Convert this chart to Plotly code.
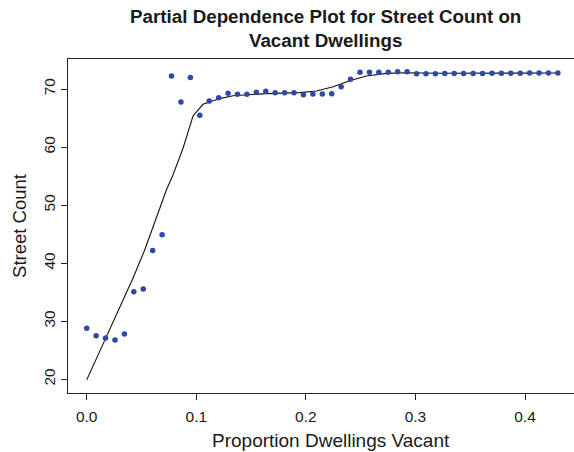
import plotly.graph_objects as go

# Partial dependence of street count on the proportion of vacant dwellings
vacant_prop = [
    0.0000, 0.0086, 0.0172, 0.0258, 0.0344, 0.0430, 0.0516, 0.0602, 0.0688, 0.0774,
    0.0860, 0.0946, 0.1032, 0.1118, 0.1204, 0.1290, 0.1376, 0.1462, 0.1548, 0.1634,
    0.1720, 0.1806, 0.1892, 0.1978, 0.2064, 0.2150, 0.2236, 0.2322, 0.2408, 0.2494,
    0.2580, 0.2666, 0.2752, 0.2838, 0.2924, 0.3010, 0.3096, 0.3182, 0.3268, 0.3354,
    0.3440, 0.3526, 0.3612, 0.3698, 0.3784, 0.3870, 0.3956, 0.4042, 0.4128, 0.4214,
    0.4300,
]
street_count = [
    28.78, 27.50, 27.10, 26.77, 27.80, 35.09, 35.55, 42.20, 44.90, 72.24,
    67.76, 72.00, 65.47, 67.93, 68.50, 69.26, 69.09, 69.09, 69.43, 69.60,
    69.37, 69.37, 69.37, 69.02, 69.14, 69.14, 69.20, 70.40, 71.67, 72.88,
    72.88, 72.88, 72.88, 72.98, 72.98, 72.65, 72.65, 72.65, 72.66, 72.68,
    72.68, 72.69, 72.69, 72.70, 72.70, 72.72, 72.73, 72.74, 72.75, 72.76,
    72.77,
]

# Smoothed trend through the partial dependence values
smooth_x = [0.0, 0.0173, 0.0331, 0.0422, 0.0529, 0.059, 0.0727, 0.0787, 0.0879,
            0.097, 0.1061, 0.1214, 0.1335, 0.164, 0.1944, 0.2097, 0.2249, 0.24,
            0.2553, 0.2736, 0.2918, 0.32, 0.36, 0.40, 0.43]
smooth_y = [19.9, 27.06, 33.66, 37.4, 42.27, 45.4, 52.6, 55.2, 59.8,
            65.35, 67.36, 68.35, 68.85, 69.2, 69.37, 69.65, 70.4, 71.43,
            72.24, 72.7, 72.8, 72.72, 72.7, 72.72, 72.76]

x_ticks = [0.0, 0.1, 0.2, 0.3, 0.4]
x_tick_labels = ["0.0", "0.1", "0.2", "0.3", "0.4"]
y_ticks = [20, 30, 40, 50, 60, 70]
y_tick_labels = ["20", "30", "40", "50", "60", "70"]

FONT = "Liberation Sans, Arial, Helvetica, sans-serif"
INK = "#1a1a1a"
PLOT_W, PLOT_H = 506, 334

fig = go.Figure()
fig.add_trace(go.Scatter(
    x=smooth_x, y=smooth_y, mode="lines",
    line=dict(color="#111111", width=1.1),
    hoverinfo="skip", showlegend=False,
))
fig.add_trace(go.Scatter(
    x=vacant_prop, y=street_count, mode="markers",
    marker=dict(color="#2f47a6", size=5.5, line=dict(width=0)),
    showlegend=False,
))

fig.update_layout(
    width=574, height=452,
    margin=dict(l=68, r=0, t=59, b=59),
    paper_bgcolor="white", plot_bgcolor="white",
    font=dict(family=FONT, color=INK),
    xaxis=dict(
        range=[-0.01708, 0.4447], tickvals=x_ticks, ticktext=x_tick_labels,
        showgrid=False, zeroline=False,
        showline=True, linecolor="#222222", linewidth=1.2, mirror=True,
        ticks="outside", ticklen=6, tickcolor="#222222", tickwidth=1,
        ticklabelstandoff=3,
        tickfont=dict(size=15.5, family=FONT, color=INK),
    ),
    yaxis=dict(
        range=[17.64, 75.17], tickvals=y_ticks, ticktext=y_tick_labels,
        showgrid=False, zeroline=False,
        showline=True, linecolor="#222222", linewidth=1.2, mirror=False,
        ticks="outside", ticklen=6, tickcolor="#222222", tickwidth=1,
        tickangle=-90,
        tickfont=dict(size=15.5, family=FONT, color=INK),
        title=dict(text="Street Count", standoff=9,
                   font=dict(size=18.5, family=FONT, color=INK)),
    ),
    annotations=[
        dict(
            text="<b>Partial Dependence Plot for Street Count on<br>Vacant Dwellings</b>",
            font=dict(size=18.8, family=FONT, color=INK),
            xref="paper", x=(325 - 68) / PLOT_W, xanchor="center",
            yref="paper", y=1 + 31 / PLOT_H, yanchor="middle",
            showarrow=False, align="center",
        ),
        dict(
            text="Proportion Dwellings Vacant",
            font=dict(size=19, family=FONT, color=INK),
            xref="paper", x=(331 - 68) / PLOT_W, xanchor="center",
            yref="paper", y=-47 / PLOT_H, yanchor="middle",
            showarrow=False,
        ),
    ],
)

fig.write_html("out.html")
